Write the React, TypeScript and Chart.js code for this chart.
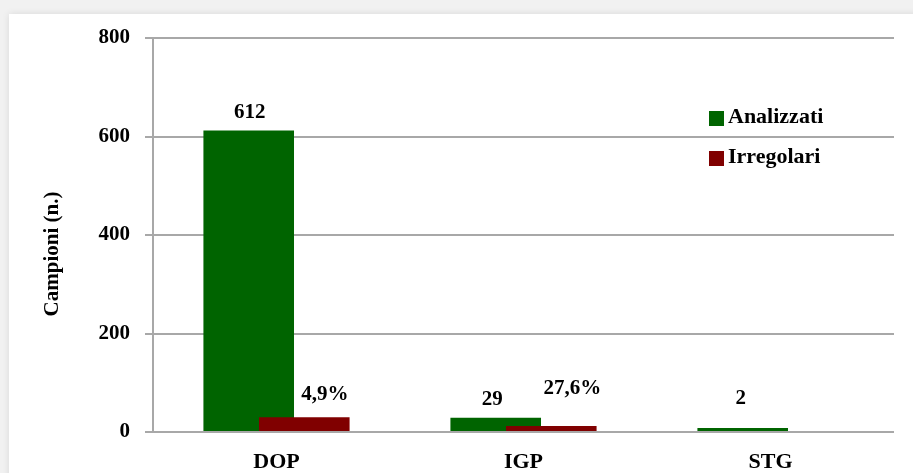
import React, { useEffect, useRef } from "react";
import { Chart, registerables } from "chart.js";

Chart.register(...registerables);

// ---- data ----
const CATEGORIES = ["DOP", "IGP", "STG"];
const SERIES_NAMES = ["Analizzati", "Irregolari"];
const ANALIZZATI = [612, 29, 2];
const IRREGOLARI: (number | null)[] = [30, 8, null];
const Y_MIN = 0;
const Y_MAX = 800;
const Y_STEP = 200;

// ---- style / layout ----
const GREEN = "#006400";
const RED = "#800000";
const GRID = "#a8a8a8";
const FONT_FAMILY = "'Liberation Serif', 'DejaVu Serif', serif";
// per-label nudges (dx, baseline offset from bar top), [series][category]
const LABEL_NUDGE: [number, number][][] = [
  [[1, -13], [-3.5, -13], [-2, -24]],
  [[20.5, -17], [21, -32.5], [0, 0]],
];

function pctLabel(irr: number, tot: number): string {
  return ((irr / tot) * 100).toFixed(1).replace(".", ",") + "%";
}

const drawOrderPlugin = {
  id: "drawOrder",
  beforeDatasetsDraw(chart: any) {
    chart.data.datasets.forEach((_: any, i: number) => {
      const meta = chart.getDatasetMeta(i);
      if (!meta.hidden) meta.controller.draw();
    });
    return false;
  },
};

const decorPlugin = {
  id: "decor",
  afterDraw(chart: any) {
    const ctx = chart.ctx as CanvasRenderingContext2D;
    const area = chart.chartArea;
    ctx.save();
    ctx.fillStyle = "#000";
    // value labels
    ctx.font = `bold 21px ${FONT_FAMILY}`;
    ctx.textAlign = "center";
    ctx.textBaseline = "alphabetic";
    const meta0 = chart.getDatasetMeta(0);
    const meta1 = chart.getDatasetMeta(1);
    ANALIZZATI.forEach((v, i) => {
      const el = meta0.data[i];
      if (!el || v == null) return;
      const [dx, dy] = LABEL_NUDGE[0][i];
      ctx.fillText(String(v), el.x + dx, el.y + dy);
    });
    IRREGOLARI.forEach((v, i) => {
      const el = meta1.data[i];
      if (!el || v == null) return;
      const [dx, dy] = LABEL_NUDGE[1][i];
      ctx.fillText(pctLabel(v, ANALIZZATI[i]), el.x + dx, el.y + dy);
    });

    // y-axis title
    ctx.save();
    ctx.translate(52.5, 254);
    ctx.rotate(-Math.PI / 2);
    ctx.font = `bold 21px ${FONT_FAMILY}`;
    ctx.textAlign = "center";
    ctx.textBaseline = "middle";
    ctx.fillText("Campioni (n.)", 0, 0);
    ctx.restore();

    // legend
    const lx = area.right - 185;
    const colors = [GREEN, RED];
    ctx.font = `bold 22px ${FONT_FAMILY}`;
    ctx.textAlign = "left";
    ctx.textBaseline = "alphabetic";
    SERIES_NAMES.forEach((name, i) => {
      const ty = area.top + 73 + i * 40;
      ctx.fillStyle = colors[i];
      ctx.fillRect(lx, ty, 15, 15);
      ctx.fillStyle = "#000";
      ctx.fillText(name, lx + 19, ty + 12.3);
    });
    ctx.restore();
  },
};

export default function App() {
  const ref = useRef<HTMLCanvasElement | null>(null);

  useEffect(() => {
    if (!ref.current) return;
    const chart = new Chart(ref.current, {
      type: "bar",
      data: {
        labels: CATEGORIES,
        datasets: [
          {
            label: SERIES_NAMES[0],
            data: ANALIZZATI,
            backgroundColor: GREEN,
            borderWidth: 0,
            minBarLength: 4,
          },
          {
            label: SERIES_NAMES[1],
            data: IRREGOLARI,
            backgroundColor: RED,
            borderWidth: 0,
            minBarLength: 6,
          },
        ],
      },
      plugins: [drawOrderPlugin, decorPlugin],
      options: {
        responsive: false,
        animation: false,
        events: [],
        categoryPercentage: 0.45,
        barPercentage: 1.63,
        layout: { padding: { left: 0, right: 19, top: 38, bottom: 0 } },
        plugins: {
          legend: { display: false },
          tooltip: { enabled: false },
          title: { display: false },
        },
        scales: {
          x: {
            grid: { display: false },
            border: { display: false },
            ticks: {
              color: "#000",
              padding: 9,
              font: { family: FONT_FAMILY, size: 22, weight: "bold" },
            },
            afterFit(scale: any) {
              scale.height = 41;
            },
          },
          y: {
            min: Y_MIN,
            max: Y_MAX,
            ticks: {
              stepSize: Y_STEP,
              color: "#000",
              padding: 15,
              font: { family: FONT_FAMILY, size: 21, weight: "bold" },
            },
            grid: {
              color: GRID,
              lineWidth: 2,
              tickLength: 8,
              drawTicks: true,
            },
            border: { display: true, color: GRID, width: 2 },
            afterFit(scale: any) {
              scale.width = 153;
            },
          },
        },
      } as any,
    });
    return () => chart.destroy();
  }, []);

  return (
    <div>
      <div
        style={{
          position: "fixed",
          left: 0,
          top: 0,
          width: "100%",
          height: "100%",
          background: "#f1f1f1",
        }}
      />
      <div
        style={{
          position: "fixed",
          left: 9,
          top: 14,
          right: -40,
          bottom: -40,
          background: "#ffffff",
          boxShadow: "0 0 7px rgba(0,0,0,0.10)",
        }}
      />
      <canvas
        ref={ref}
        width={913}
        height={473}
        style={{ position: "fixed", left: 0, top: 0, width: 913, height: 473 }}
      />
    </div>
  );
}
